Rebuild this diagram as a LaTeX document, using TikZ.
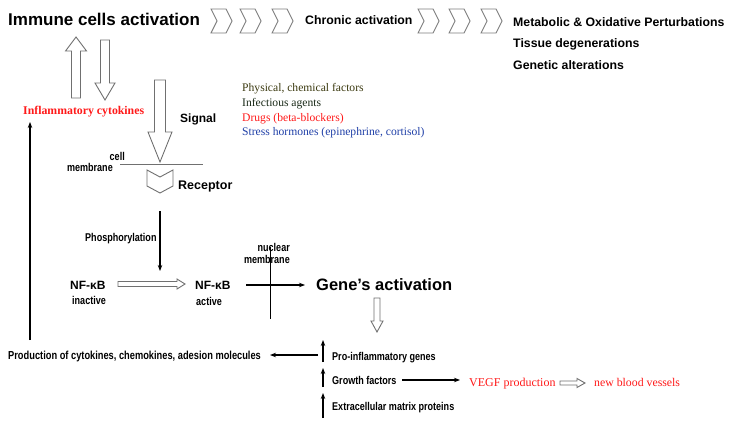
\documentclass[tikz,border=0pt]{standalone}
\usepackage{fontspec}
\setmainfont{Liberation Sans}
\newfontfamily\serifx{Liberation Serif}
\newfontfamily\narrowx[FakeStretch=0.8]{Liberation Sans}
\usetikzlibrary{calc,arrows.meta}
\definecolor{hgray}{HTML}{707070}
\definecolor{tred}{HTML}{FF1A1A}
\definecolor{tblue}{HTML}{2040A8}
\definecolor{tolive}{HTML}{3C3A10}
\definecolor{tdark}{HTML}{1A2A18}
\tikzset{
 lbl/.style={inner sep=0pt, anchor=base west},
 bigl/.style={lbl, font=\fontsize{17}{20}\selectfont\bfseries},
 midl/.style={lbl, font=\fontsize{12.3}{14}\selectfont\bfseries},
 smalll/.style={lbl, font=\narrowx\bfseries\fontsize{11.3}{13}\selectfont},
 serl/.style={lbl, font=\serifx\fontsize{11.6}{14}\selectfont},
 hollow/.style={draw=hgray, fill=white, line width=0.9pt, line join=miter},
 chevline/.style={draw=hgray!90, fill=white, line width=0.9pt},
 conn/.style={line width=1.2pt, -{Stealth[length=6pt,width=4.5pt]}},
 thinline/.style={line width=0.8pt},
 pics/chev/.style={code={\draw[chevline] (0,-12)--(15,-12)--(21,0)--(15,12)--(0,12)--(6,0)--cycle;}},
}
\newcommand\vhollow[5]{%
 \draw[hollow] let \p1=(#1), \p2=(#2), \n1={sign(\y2-\y1)}, \n2={\y2-\n1*#5pt} in
 ({\x1-#3pt},\n2) -- ({\x1-#3pt},\y1) -- ({\x1+#3pt},\y1) -- ({\x1+#3pt},\n2) -- ({\x1+#4pt},\n2) -- (\x2,\y2) -- ({\x1-#4pt},\n2) -- cycle;}
\newcommand\hhollow[5]{%
 \draw[hollow] let \p1=(#1), \p2=(#2), \n1={sign(\x2-\x1)}, \n2={\x2-\n1*#5pt} in
 (\n2,{\y1-#3pt}) -- (\x1,{\y1-#3pt}) -- (\x1,{\y1+#3pt}) -- (\n2,{\y1+#3pt}) -- (\n2,{\y1+#4pt}) -- (\x2,\y2) -- (\n2,{\y1-#4pt}) -- cycle;}
\begin{document}
\begin{tikzpicture}[x=1pt,y=-1pt]
\useasboundingbox[fill=white] (0,0) rectangle (733,428);
% top row
\node[bigl] (immune) at (8,26) {Immune cells activation};
\pic (c1) at (211,21) {chev};
\pic (c2) at (240,21) {chev};
\pic (c3) at (272,21) {chev};
\node[midl] (chronic) at (305,25) {Chronic activation};
\pic (c4) at (418,21) {chev};
\pic (c5) at (449,21) {chev};
\pic (c6) at (481,21) {chev};
\node[midl] (metab) at (513,27) {Metabolic \& Oxidative Perturbations};
\node[midl] (tissue) at (513,48) {Tissue degenerations};
\node[midl] (genetic) at (513,70) {Genetic alterations};
% cytokines loop
\node[lbl, font=\serifx\bfseries\fontsize{11.8}{14}\selectfont, text=tred] (cyto) at (23,114) {Inflammatory cytokines};
\coordinate (upA) at (76,98); \coordinate (upB) at (76,37);
\vhollow{upA}{upB}{4.5}{10.5}{14}
\coordinate (dnA) at (105,40); \coordinate (dnB) at (105,100);
\vhollow{dnA}{dnB}{4.5}{10}{17}
% signal
\coordinate (sigA) at (160,80); \coordinate (sigB) at (160,162);
\vhollow{sigA}{sigB}{5.5}{12}{30}
\node[lbl, font=\fontsize{12}{14}\selectfont\bfseries] (signal) at (180,122) {Signal};
\node[serl, text=tolive] (phys) at (242,92) {Physical, chemical factors};
\node[serl, text=tdark] (infec) at (242,106.5) {Infectious agents};
\node[serl, text=tred] (drugs) at (242,121) {Drugs (beta-blockers)};
\node[serl, text=tblue] (stress) at (242,135.5) {Stress hormones (epinephrine, cortisol)};
% cell membrane
\coordinate (cm1) at (120,164); \coordinate (cm2) at (203,164);
\draw[draw=hgray, line width=1pt] (cm1) -- (cm2);
\node[smalll, anchor=base east] (cell) at (125,160) {cell};
\node[smalll, anchor=base east] (cmem) at (113,171) {membrane};
% receptor
\draw[hollow] (147,170) -- (160,177) -- (173,170) -- (173,186) -- (160,193) -- (147,186) -- cycle;
\node[lbl, font=\fontsize{12.5}{14}\selectfont\bfseries] (receptor) at (178,189) {Receptor};
% phosphorylation
\coordinate (ph1) at (160,211); \coordinate (ph2) at (160,271);
\draw[conn] (ph1) -- (ph2);
\node[smalll] (phos) at (85,241) {Phosphorylation};
% NF-kB
\node[lbl, font=\fontsize{12}{14}\selectfont\bfseries] (nfi) at (70,289) {NF-κB};
\node[smalll] (inact) at (72,304) {inactive};
\coordinate (nh1) at (118,284); \coordinate (nh2) at (185,284);
\hhollow{nh1}{nh2}{2.5}{5}{8}
\node[lbl, font=\fontsize{12}{14}\selectfont\bfseries] (nfa) at (195,289) {NF-κB};
\node[smalll] (act) at (196,305) {active};
\coordinate (ga1) at (246,285); \coordinate (ga2) at (305,285);
\draw[conn] (ga1) -- (ga2);
% nuclear membrane
\node[smalll, anchor=base east] (nuc) at (290,251) {nuclear};
\node[smalll, anchor=base east] (nmem) at (290,263) {membrane};
\coordinate (nm1) at (270,247); \coordinate (nm2) at (270,319);
\draw[thinline] (nm1) -- (nm2);
% gene activation
\node[lbl, font=\fontsize{16.5}{20}\selectfont\bfseries] (gene) at (316,290) {Gene’s activation};
\coordinate (gd1) at (377,298); \coordinate (gd2) at (377,332);
\vhollow{gd1}{gd2}{3}{6}{11}
% gene products
\coordinate (p1a) at (323,362); \coordinate (p1b) at (323,340);
\coordinate (p2a) at (323,387); \coordinate (p2b) at (323,368);
\coordinate (p3a) at (323,418); \coordinate (p3b) at (323,393);
\draw[conn] (p1a) -- (p1b);
\draw[conn] (p2a) -- (p2b);
\draw[conn] (p3a) -- (p3b);
\node[smalll] (proinf) at (332,360) {Pro-inflammatory genes};
\node[smalll] (growth) at (332,384) {Growth factors};
\node[smalll] (ecm) at (332,410) {Extracellular matrix proteins};
% production and feedback
\node[smalll, font=\narrowx\bfseries\fontsize{11.6}{13}\selectfont] (prod) at (8,359) {Production of cytokines, chemokines, adesion molecules};
\coordinate (pr1) at (318,355); \coordinate (pr2) at (270,355);
\draw[conn] (pr1) -- (pr2);
\coordinate (fb1) at (30,340); \coordinate (fb2) at (30,122);
\draw[conn] (fb1) -- (fb2);
% VEGF
\coordinate (vg1) at (402,380); \coordinate (vg2) at (460,380);
\draw[conn] (vg1) -- (vg2);
\node[lbl, font=\serifx\fontsize{12}{14}\selectfont, text=tred] (vegf) at (469,386) {VEGF production};
\coordinate (vh1) at (560,383); \coordinate (vh2) at (585,383);
\hhollow{vh1}{vh2}{2}{4.5}{8}
\node[lbl, font=\serifx\fontsize{11.8}{14}\selectfont, text=tred] (vessels) at (594,386) {new blood vessels};
\end{tikzpicture}
\end{document}
